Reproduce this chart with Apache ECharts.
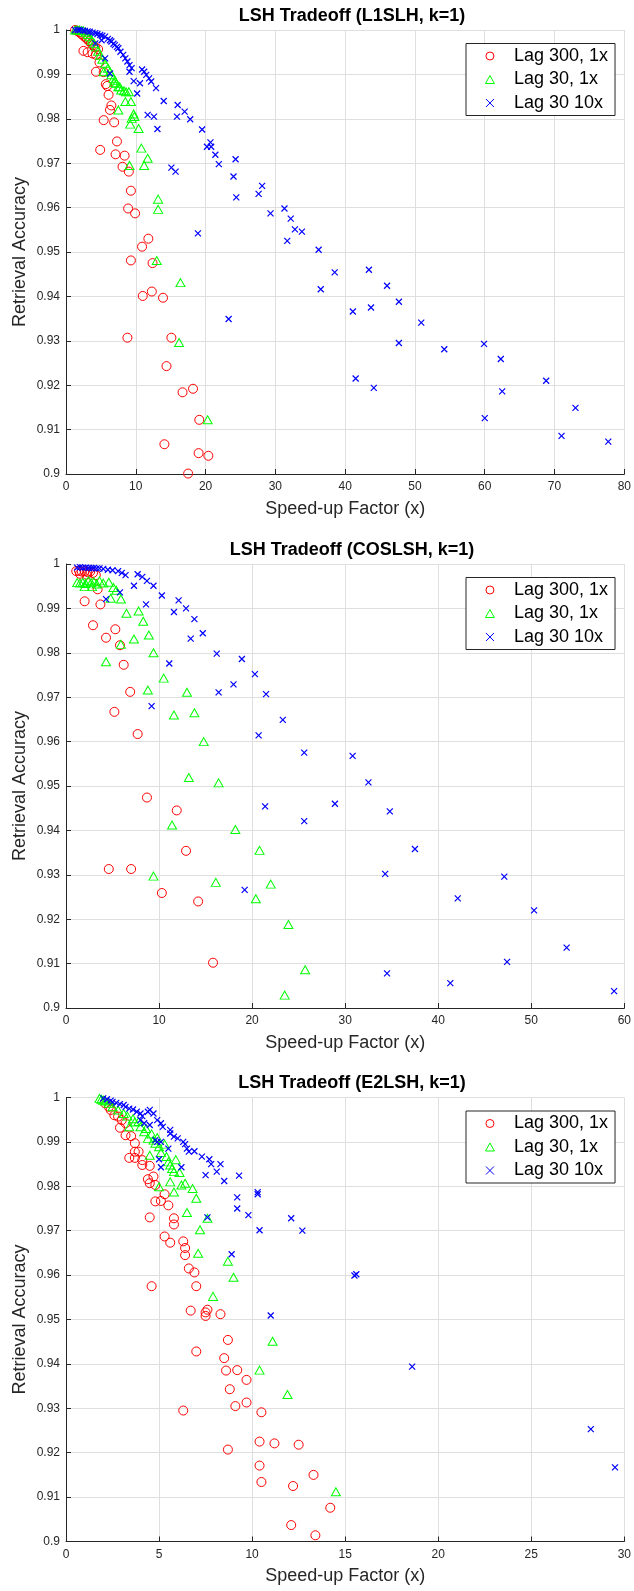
<!DOCTYPE html>
<html>
<head>
<meta charset="utf-8">
<script src="https://cdn.jsdelivr.net/npm/echarts@6/dist/echarts.min.js"></script>
<style>
html,body{margin:0;padding:0;background:#fff;}
#chart{width:634px;height:1591px;}
</style>
</head>
<body>
<div id="chart"></div>
<script>
// ---------- Data ----------
const titles = ['LSH Tradeoff (L1SLH, k=1)', 'LSH Tradeoff (COSLSH, k=1)', 'LSH Tradeoff (E2LSH, k=1)'];
const seriesNames = ['Lag 300, 1x', 'Lag 30, 1x', 'Lag 30 10x'];
const xLabel = 'Speed-up Factor (x)';
const yLabel = 'Retrieval Accuracy';
const xTicks1 = [0, 10, 20, 30, 40, 50, 60, 70, 80];
const xTicks2 = [0, 10, 20, 30, 40, 50, 60];
const xTicks3 = [0, 5, 10, 15, 20, 25, 30];
const yTicks = [0.9, 0.91, 0.92, 0.93, 0.94, 0.95, 0.96, 0.97, 0.98, 0.99, 1];

// Panel 1: L1SLH
const red1 = [[1.3,1.0],[1.6,0.9998],[1.9,0.9995],[2.2,0.9991],[2.5,0.9987],[2.8,0.9983],[3.0,0.9980],[3.3,0.9975],[3.6,0.9970],[3.9,0.9966],[4.2,0.9961],[4.6,0.9957],
[2.5,0.9953],[3.1,0.9950],[3.8,0.9947],[4.3,0.9944],[4.8,0.9927],[4.3,0.9906],[5.4,0.9905],[5.7,0.9878],[5.9,0.9874],[6.1,0.9854],[6.5,0.9830],[6.3,0.9820],[5.4,0.9797],[6.9,0.9792],[7.3,0.9749],[4.9,0.9730],[7.1,0.9720],[8.4,0.9717],[8.1,0.9692],[9.0,0.9681],[9.3,0.9638],[8.9,0.9598],[9.9,0.9587],[11.8,0.9530],[10.9,0.9512],[9.3,0.9481],[12.4,0.9475],[12.3,0.9411],[11.0,0.9401],[13.9,0.9397],[8.8,0.9307],[15.1,0.9307],[14.4,0.9243],[18.2,0.9192],[16.7,0.9184],[19.1,0.9122],[14.1,0.9067],[19.0,0.9047],[20.4,0.9041],[17.5,0.9001]];
const green1 = [[1.3,1.0],[1.6,1.0],[1.9,1.0],[2.2,0.9999],[2.5,0.9998],[2.8,0.9995],[3.1,0.9990],[3.4,0.9985],[3.7,0.9977],[4.0,0.9970],[4.3,0.9962],[4.6,0.9952],[4.9,0.9943],[5.2,0.9934],[5.6,0.9925],[6.0,0.9914],[6.3,0.9906],[6.5,0.9899],[6.8,0.9891],[7.0,0.9887],[7.2,0.9880],[7.7,0.9872],
[5.4,0.9906],[6.9,0.9881],[7.5,0.9872],[7.9,0.9865],[8.3,0.9863],[8.6,0.9861],[9.0,0.9861],[8.5,0.9839],[9.3,0.9839],[7.5,0.9820],[9.7,0.9811],[9.4,0.9801],[9.8,0.9805],[9.2,0.9788],[10.4,0.9778],[10.8,0.9734],[11.7,0.9711],[9.1,0.9695],[11.2,0.9695],[13.2,0.9619],[13.2,0.9596],[13.0,0.9481],[16.4,0.9431],[16.2,0.9296],[20.3,0.9122]];
const blue1 = [[1.3,1.0],[1.7,1.0],[2.0,1.0],[2.4,0.9999],[2.7,0.9998],[3.1,0.9997],[3.4,0.9996],[3.8,0.9994],[4.2,0.9993],[4.5,0.9991],[4.9,0.9989],[5.2,0.9987],[5.6,0.9985],[6.0,0.9980],[6.3,0.9977],[6.5,0.9974],[6.8,0.9969],[7.0,0.9966],[7.3,0.9962],[7.5,0.9959],[7.8,0.9951],[8.2,0.9944],[8.5,0.9936],[8.8,0.9929],[9.1,0.9921],[9.4,0.9914],[5.1,0.9977],[4.2,0.9970],[5.6,0.9936],[6.3,0.9902],
[9.1,0.9906],[9.7,0.9885],[10.2,0.9857],[10.6,0.9880],[10.9,0.9911],[11.2,0.9906],[11.5,0.9899],[11.9,0.9891],[12.2,0.9884],[12.9,0.9869],[14.0,0.9840],[16.0,0.9831],[17.0,0.9816],[15.9,0.9805],[17.8,0.9799],[11.7,0.9809],[12.6,0.9805],[13.1,0.9777],[19.5,0.9776],[20.7,0.9747],[20.2,0.9737],[20.8,0.9737],[21.4,0.9719],[21.9,0.9698],[24.3,0.9709],[24.0,0.9670],[24.4,0.9623],[15.1,0.9690],[15.7,0.9681],[18.9,0.9542],[23.3,0.9349],[28.1,0.9649],[27.6,0.9631],[29.3,0.9587],[31.3,0.9598],[32.2,0.9575],[32.8,0.9551],[33.8,0.9546],[31.7,0.9525],[36.2,0.9505],[38.5,0.9454],[43.4,0.9460],[36.5,0.9416],[46.0,0.9424],[47.7,0.9388],[41.1,0.9366],[43.7,0.9375],[50.9,0.9341],[47.7,0.9295],[54.2,0.9281],[59.9,0.9293],[62.3,0.9259],[41.5,0.9215],[44.1,0.9194],[68.8,0.9210],[62.5,0.9186],[73.0,0.9149],[60.0,0.9126],[71.0,0.9086],[77.7,0.9073]];

// Panel 2: COSLSH
const red2 = [[1.1,0.9984],[1.4,0.9985],[1.7,0.9983],[2.0,0.9984],[2.3,0.9982],[2.6,0.9983],[2.9,0.9980],[3.2,0.9975],[1.5,0.9978],[2.2,0.9976],
[3.4,0.9943],[2.0,0.9916],[3.7,0.9909],[2.9,0.9862],[5.3,0.9853],[4.3,0.9834],[5.8,0.9817],[6.2,0.9773],[6.9,0.9712],[5.2,0.9667],[7.7,0.9617],[8.7,0.9474],[11.9,0.9445],[12.9,0.9354],[4.6,0.9313],[7.0,0.9313],[10.3,0.9259],[14.2,0.9240],[15.8,0.9102]];
const green2 = [[1.2,0.9958],[1.5,0.9957],[1.8,0.9959],[2.1,0.9956],[2.4,0.9962],[2.7,0.9958],[3.0,0.9960],[3.3,0.9955],[3.6,0.9962],[2.0,0.9949],[2.8,0.9949],[4.0,0.9957],
[4.6,0.9959],[5.1,0.9947],[5.4,0.9941],[4.8,0.9923],[5.9,0.9921],[6.5,0.9889],[7.8,0.9894],[8.3,0.9871],[4.3,0.9780],[5.9,0.9819],[7.3,0.9831],[8.9,0.9840],[9.4,0.9800],[10.5,0.9743],[8.8,0.9716],[13.0,0.9711],[11.6,0.9660],[13.8,0.9665],[14.8,0.9600],[13.2,0.9519],[16.4,0.9507],[11.4,0.9412],[18.2,0.9402],[20.8,0.9355],[9.4,0.9297],[16.1,0.9283],[20.4,0.9246],[22.0,0.9279],[23.9,0.9188],[25.7,0.9086],[23.5,0.9029]];
const blue2 = [[1.2,0.9992],[1.5,0.9993],[1.8,0.9992],[2.1,0.9992],[2.4,0.9991],[2.7,0.9991],[3.0,0.9991],[3.3,0.9990],[3.6,0.9990],[4.0,0.9989],[4.5,0.9987],[5.0,0.9986],[5.6,0.9984],[6.0,0.9980],[6.4,0.9975],
[7.7,0.9977],[8.2,0.9971],[8.7,0.9962],[9.4,0.9951],[7.3,0.9951],[5.8,0.9936],[4.3,0.9921],[8.6,0.9909],[10.3,0.9929],[12.1,0.9918],[12.9,0.9900],[11.6,0.9892],[13.8,0.9876],[14.7,0.9844],[13.4,0.9832],[16.2,0.9798],[18.9,0.9786],[11.1,0.9776],[20.3,0.9752],[18.0,0.9729],[16.4,0.9711],[21.5,0.9707],[9.2,0.9680],[20.7,0.9614],[23.3,0.9649],[25.6,0.9575],[30.8,0.9568],[32.5,0.9508],[21.4,0.9454],[28.9,0.9460],[25.6,0.9421],[34.8,0.9443],[37.5,0.9358],[34.3,0.9302],[19.2,0.9266],[47.1,0.9296],[42.1,0.9247],[50.3,0.9220],[53.8,0.9136],[47.4,0.9104],[34.5,0.9078],[41.3,0.9056],[58.9,0.9038]];

// Panel 3: E2LSH
const red3 = [[2.1,0.9987],[2.3,0.9979],[2.4,0.9972],[2.6,0.9960],[2.8,0.9957],[3.0,0.9949],[3.2,0.9942],[2.9,0.9932],[3.2,0.9915],[3.5,0.9913],[3.7,0.9897],[3.7,0.9878],[3.9,0.9878],[3.4,0.9864],[3.7,0.9864],[4.1,0.9859],[4.1,0.9848],[4.5,0.9846],[4.4,0.9816],[4.7,0.9822],[4.5,0.9807],[4.8,0.9803],[5.3,0.9782],[4.8,0.9766],[5.1,0.9767],[5.5,0.9757],[4.5,0.9730],[5.8,0.9728],[5.8,0.9714],[5.3,0.9687],[5.6,0.9673],[6.3,0.9676],[6.4,0.9661],[6.4,0.9645],[6.6,0.9615],[6.9,0.9606],[4.6,0.9575],[7.0,0.9575],[6.7,0.9520],[7.6,0.9522],[7.5,0.9516],[7.5,0.9508],[8.3,0.9512],[8.7,0.9454],[7.0,0.9428],[8.5,0.9413],[8.6,0.9385],[9.2,0.9386],[9.7,0.9364],[8.8,0.9343],[6.3,0.9295],[9.1,0.9305],[9.7,0.9313],[10.5,0.9291],[10.4,0.9225],[11.2,0.9221],[12.5,0.9218],[8.7,0.9207],[10.4,0.9171],[13.3,0.9150],[10.5,0.9134],[12.2,0.9125],[14.2,0.9076],[12.1,0.9037],[13.4,0.9014]];
const green3 = [[1.8,0.9998],[1.9,0.9996],[2.0,0.9994],[2.1,0.9992],[2.3,0.9987],[2.5,0.9979],[2.8,0.9972],[3.1,0.9964],[3.3,0.9958],[3.6,0.9952],[3.4,0.9934],[3.7,0.9945],[3.9,0.9946],[4.0,0.9934],[4.2,0.9923],[4.3,0.9930],[4.6,0.9918],[4.4,0.9908],[4.7,0.9904],[4.8,0.9897],[4.9,0.9910],[5.0,0.9889],[5.3,0.9895],[4.5,0.9870],[5.1,0.9876],[5.4,0.9867],[5.5,0.9855],[5.9,0.9860],[5.6,0.9848],[5.7,0.9840],[5.8,0.9833],[6.1,0.9831],[5.6,0.9810],[6.2,0.9803],[6.4,0.9807],[5.0,0.9799],[5.8,0.9787],[6.8,0.9795],[7.0,0.9773],[6.5,0.9741],[7.6,0.9728],[7.2,0.9702],[7.1,0.9649],[8.7,0.9631],[9.0,0.9595],[7.9,0.9552],[11.1,0.9451],[10.4,0.9386],[11.9,0.9331],[14.5,0.9112]];
const blue3 = [[2.0,0.9998],[2.2,0.9996],[2.4,0.9993],[2.5,0.9990],[2.7,0.9988],[2.9,0.9985],[3.1,0.9983],[3.2,0.9979],[3.4,0.9975],[3.6,0.9973],[3.8,0.9968],[4.0,0.9964],[4.1,0.9958],[4.4,0.9968],[4.5,0.9972],[4.7,0.9964],[4.0,0.9949],[4.2,0.9942],[4.5,0.9938],[4.9,0.9949],[5.1,0.9942],[5.2,0.9934],[5.6,0.9927],[5.6,0.9919],[5.8,0.9912],[6.0,0.9908],[6.3,0.9900],[6.4,0.9895],[6.5,0.9885],[6.6,0.9878],[6.9,0.9879],[4.8,0.9904],[4.9,0.9900],[5.1,0.9900],[5.5,0.9885],[5.0,0.9861],[5.1,0.9843],[6.2,0.9843],[7.3,0.9867],[7.7,0.9861],[7.8,0.9850],[8.3,0.9850],[8.1,0.9833],[7.5,0.9825],[8.5,0.9812],[9.3,0.9824],[9.2,0.9775],[9.2,0.9750],[9.8,0.9735],[10.3,0.9787],[10.3,0.9782],[10.4,0.9701],[7.6,0.9730],[8.9,0.9647],[12.1,0.9728],[12.7,0.9700],[15.6,0.9602],[15.5,0.9599],[11.0,0.9509],[18.6,0.9394],[28.2,0.9253],[29.5,0.9167]];

// ---------- Build ----------
const panels = [
  {xTicks: xTicks1, data: [red1, green1, blue1]},
  {xTicks: xTicks2, data: [red2, green2, blue2]},
  {xTicks: xTicks3, data: [red3, green3, blue3]}
];
const FONT = '"Liberation Sans", Arial, Helvetica, sans-serif';
const AX = '#262626';
const GRID_C = '#dfdfdf';
const plotTops = [30, 564, 1097.5];
const plotH = 444;
const colors = ['#ff0000', '#00ff00', '#0000ff'];
const TRI = 'path://M5,0L10,9L0,9Z';
const CROSS = 'path://M0,0L10,10M10,0L0,10';
const symbols = ['circle', 'triangle', CROSS];
const sizes = [9, [9, 8], 6];
const legendIcons = ['circle', TRI, CROSS];

const option = {
  animation: false,
  backgroundColor: '#ffffff',
  textStyle: {fontFamily: FONT},
  title: [], grid: [], xAxis: [], yAxis: [], series: [], legend: []
};

panels.forEach((p, i) => {
  const top = plotTops[i];
  option.title.push({
    text: titles[i], left: 347, textAlign: 'center', top: top - 28,
    textStyle: {fontFamily: FONT, fontSize: 18, fontWeight: 'bold', color: '#000'}
  });
  option.grid.push({left: 66, top: top, width: 562, height: plotH, containLabel: false});
  option.xAxis.push({
    type: 'value', gridIndex: i,
    min: p.xTicks[0], max: p.xTicks[p.xTicks.length - 1], interval: p.xTicks[1] - p.xTicks[0],
    name: xLabel, nameLocation: 'middle', nameGap: 26, nameMoveOverlap: false,
    nameTextStyle: {fontFamily: FONT, fontSize: 18, color: AX},
    axisLine: {show: true, onZero: false, lineStyle: {color: AX, width: 1}},
    axisTick: {show: true, inside: true, length: 5, lineStyle: {color: AX}},
    axisLabel: {fontFamily: FONT, fontSize: 12, color: AX, margin: 7},
    splitLine: {show: true, lineStyle: {color: GRID_C, width: 1}}
  });
  option.yAxis.push({
    type: 'value', gridIndex: i,
    min: yTicks[0], max: yTicks[yTicks.length - 1], interval: 0.01,
    name: yLabel, nameLocation: 'middle', nameGap: 36.5, nameMoveOverlap: false,
    nameTextStyle: {fontFamily: FONT, fontSize: 18, color: AX},
    axisLine: {show: true, onZero: false, lineStyle: {color: AX, width: 1}},
    axisTick: {show: true, inside: true, length: 5, lineStyle: {color: AX}},
    axisLabel: {fontFamily: FONT, fontSize: 12, color: AX, margin: 6,
      formatter: v => { const r = Math.round(v * 100) / 100; const idx = yTicks.findIndex(t => Math.abs(t - r) < 1e-9); return idx >= 0 ? String(yTicks[idx]) : ''; }},
    splitLine: {show: true, lineStyle: {color: GRID_C, width: 1}}
  });
  p.data.forEach((d, k) => {
    option.series.push({
      type: 'scatter', name: seriesNames[k], xAxisIndex: i, yAxisIndex: i,
      data: d, symbol: symbols[k], symbolSize: sizes[k],
      itemStyle: {color: 'rgba(0,0,0,0)', borderColor: colors[k], borderWidth: k === 2 ? 1.2 : 1, opacity: 1},
      emphasis: {disabled: true}, silent: true, clip: false
    });
  });
  option.legend.push({
    orient: 'vertical', left: 466, top: top + 13.5,
    padding: [3.5, 7, 3.5, 19], itemGap: 5.5, itemWidth: 38, itemHeight: 8,
    symbolKeepAspect: true,
    backgroundColor: '#fff', borderColor: '#262626', borderWidth: 1,
    selectedMode: false,
    textStyle: {fontFamily: FONT, fontSize: 18, color: '#000', lineHeight: 18, padding: 0},
    data: seriesNames.map((n, k) => ({name: n, icon: legendIcons[k],
      itemStyle: {color: 'rgba(0,0,0,0)', borderColor: colors[k], borderWidth: 1}}))
  });
});

const chart = echarts.init(document.getElementById('chart'), null, {renderer: 'canvas'});
chart.setOption(option);
</script>
</body>
</html>
